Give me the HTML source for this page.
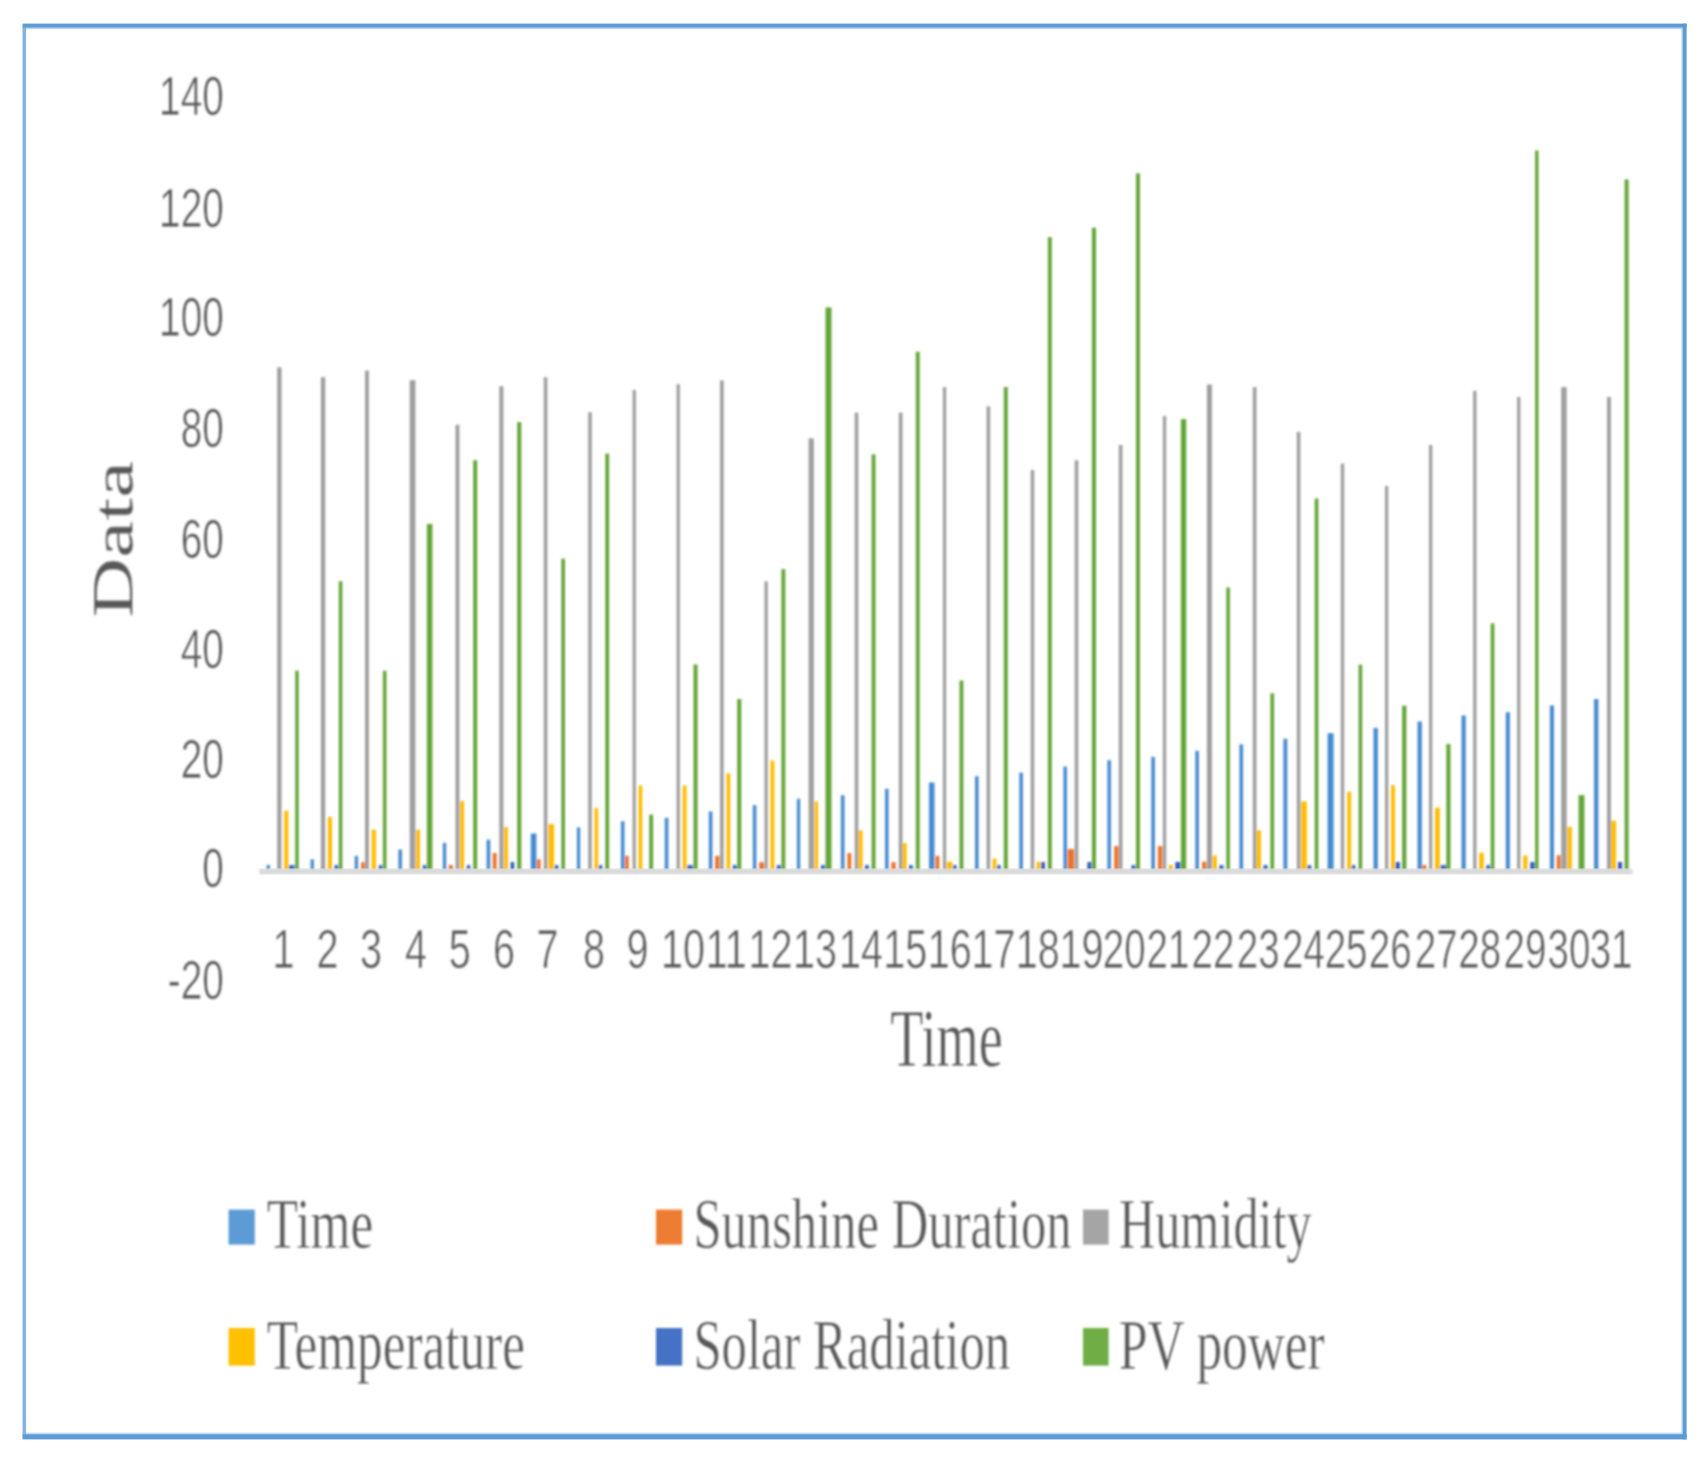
<!DOCTYPE html>
<html lang="en">
<head>
<meta charset="utf-8">
<title>Data vs Time chart</title>
<style>
html,body{margin:0;padding:0;background:#fff;}
body{width:1702px;height:1460px;overflow:hidden;}
svg{display:block;}
.s{font-family:"Liberation Sans",Arial,sans-serif;fill:#595959;}
.r{font-family:"Liberation Serif","Times New Roman",serif;fill:#595959;}
</style>
</head>
<body>
<svg width="1702" height="1460" viewBox="0 0 1702 1460">
<defs><filter id="b" x="-5%" y="-5%" width="110%" height="110%"><feGaussianBlur stdDeviation="0.9"/></filter><filter id="f" x="-1%" y="-1%" width="102%" height="102%"><feGaussianBlur stdDeviation="0.55"/></filter><filter id="t" x="-5%" y="-5%" width="110%" height="110%"><feGaussianBlur stdDeviation="0.95"/></filter></defs>
<rect x="0" y="0" width="1702" height="1460" fill="#ffffff"/>
<g filter="url(#f)">
<rect x="22.5" y="26" width="3.6" height="1411" fill="#84b3e0"/>
<rect x="22.6" y="23.6" width="1664" height="4" fill="#5b9bd5"/>
<rect x="26" y="27.4" width="1656" height="1.8" fill="#5b9bd5" opacity="0.4"/>
<rect x="1682.6" y="23.6" width="4" height="1415.8" fill="#5b9bd5"/>
<rect x="1681.2" y="28" width="1.5" height="1406" fill="#5b9bd5" opacity="0.3"/>
<rect x="22.6" y="1434.2" width="1664" height="5.2" fill="#5b9bd5"/>
<rect x="26" y="1432.6" width="1656" height="1.7" fill="#5b9bd5" opacity="0.35"/>
</g>
<g filter="url(#b)" shape-rendering="geometricPrecision">
<rect x="266.6" y="865.0" width="3.3" height="5.0" fill="#478bd0"/>
<rect x="277.2" y="367.3" width="4.3" height="502.7" fill="#9f9f9f"/>
<rect x="284.2" y="810.7" width="4.1" height="59.3" fill="#ffbd00"/>
<rect x="288.9" y="865.0" width="5.7" height="5.0" fill="#3d6dc5"/>
<rect x="295.2" y="670.7" width="3.5" height="199.3" fill="#63a537"/>
<rect x="310.6" y="859.3" width="3.3" height="10.7" fill="#478bd0"/>
<rect x="320.9" y="377.2" width="4.3" height="492.8" fill="#9f9f9f"/>
<rect x="327.9" y="817.0" width="4.1" height="53.0" fill="#ffbd00"/>
<rect x="334.5" y="865.0" width="3.7" height="5.0" fill="#3d6dc5"/>
<rect x="338.8" y="581.2" width="3.6" height="288.8" fill="#63a537"/>
<rect x="354.7" y="855.8" width="3.4" height="14.2" fill="#478bd0"/>
<rect x="361.1" y="862.2" width="3.6" height="7.8" fill="#eb7326"/>
<rect x="365.0" y="370.5" width="3.9" height="499.5" fill="#9f9f9f"/>
<rect x="371.6" y="829.7" width="4.4" height="40.3" fill="#ffbd00"/>
<rect x="378.7" y="865.0" width="3.6" height="5.0" fill="#3d6dc5"/>
<rect x="382.9" y="670.7" width="3.6" height="199.3" fill="#63a537"/>
<rect x="398.4" y="849.5" width="3.6" height="20.5" fill="#478bd0"/>
<rect x="409.7" y="380.2" width="5.7" height="489.8" fill="#9f9f9f"/>
<rect x="416.0" y="829.7" width="4.0" height="40.3" fill="#ffbd00"/>
<rect x="422.7" y="865.0" width="3.6" height="5.0" fill="#3d6dc5"/>
<rect x="426.9" y="523.9" width="5.5" height="346.1" fill="#63a537"/>
<rect x="442.8" y="842.9" width="3.4" height="27.1" fill="#478bd0"/>
<rect x="448.8" y="865.0" width="4.0" height="5.0" fill="#eb7326"/>
<rect x="455.5" y="424.8" width="3.9" height="445.2" fill="#9f9f9f"/>
<rect x="460.0" y="801.1" width="4.1" height="68.9" fill="#ffbd00"/>
<rect x="466.8" y="865.0" width="3.6" height="5.0" fill="#3d6dc5"/>
<rect x="473.2" y="460.2" width="4.0" height="409.8" fill="#63a537"/>
<rect x="486.6" y="839.6" width="3.7" height="30.4" fill="#478bd0"/>
<rect x="492.7" y="853.0" width="3.9" height="17.0" fill="#eb7326"/>
<rect x="499.3" y="386.2" width="4.1" height="483.8" fill="#9f9f9f"/>
<rect x="504.0" y="826.9" width="3.9" height="43.1" fill="#ffbd00"/>
<rect x="510.6" y="862.0" width="3.6" height="8.0" fill="#2f5bc0"/>
<rect x="517.2" y="422.1" width="4.1" height="447.9" fill="#63a537"/>
<rect x="530.8" y="833.5" width="5.6" height="36.5" fill="#478bd0"/>
<rect x="537.0" y="859.3" width="3.6" height="10.7" fill="#eb7326"/>
<rect x="543.8" y="377.2" width="3.6" height="492.8" fill="#9f9f9f"/>
<rect x="548.3" y="824.1" width="5.8" height="45.9" fill="#ffbd00"/>
<rect x="554.7" y="865.0" width="3.7" height="5.0" fill="#3d6dc5"/>
<rect x="561.3" y="558.7" width="3.7" height="311.3" fill="#63a537"/>
<rect x="576.9" y="827.3" width="3.3" height="42.7" fill="#478bd0"/>
<rect x="588.2" y="412.2" width="3.6" height="457.8" fill="#9f9f9f"/>
<rect x="594.5" y="807.9" width="3.6" height="62.1" fill="#ffbd00"/>
<rect x="598.7" y="865.0" width="3.7" height="5.0" fill="#3d6dc5"/>
<rect x="605.3" y="453.6" width="3.8" height="416.4" fill="#63a537"/>
<rect x="620.9" y="821.3" width="3.6" height="48.7" fill="#478bd0"/>
<rect x="625.1" y="855.8" width="3.6" height="14.2" fill="#eb7326"/>
<rect x="632.6" y="390.0" width="3.3" height="480.0" fill="#9f9f9f"/>
<rect x="638.5" y="785.6" width="3.8" height="84.4" fill="#ffbd00"/>
<rect x="649.2" y="814.6" width="3.9" height="55.4" fill="#63a537"/>
<rect x="664.7" y="817.8" width="3.7" height="52.2" fill="#478bd0"/>
<rect x="676.6" y="384.1" width="3.3" height="485.9" fill="#9f9f9f"/>
<rect x="682.6" y="785.6" width="4.0" height="84.4" fill="#ffbd00"/>
<rect x="687.2" y="865.0" width="5.7" height="5.0" fill="#3d6dc5"/>
<rect x="693.5" y="664.5" width="4.1" height="205.5" fill="#63a537"/>
<rect x="708.8" y="811.4" width="3.6" height="58.6" fill="#478bd0"/>
<rect x="715.1" y="855.8" width="4.3" height="14.2" fill="#eb7326"/>
<rect x="720.0" y="380.4" width="3.7" height="489.6" fill="#9f9f9f"/>
<rect x="726.4" y="773.3" width="3.9" height="96.7" fill="#ffbd00"/>
<rect x="732.7" y="865.0" width="3.9" height="5.0" fill="#3d6dc5"/>
<rect x="737.2" y="699.0" width="4.1" height="171.0" fill="#63a537"/>
<rect x="752.8" y="805.1" width="3.6" height="64.9" fill="#478bd0"/>
<rect x="759.2" y="862.2" width="4.7" height="7.8" fill="#eb7326"/>
<rect x="764.5" y="581.4" width="3.3" height="288.6" fill="#9f9f9f"/>
<rect x="770.4" y="760.6" width="4.0" height="109.4" fill="#ffbd00"/>
<rect x="776.7" y="865.0" width="4.1" height="5.0" fill="#3d6dc5"/>
<rect x="781.4" y="569.1" width="3.9" height="300.9" fill="#63a537"/>
<rect x="796.9" y="798.7" width="3.3" height="71.3" fill="#478bd0"/>
<rect x="808.6" y="438.4" width="5.3" height="431.6" fill="#9f9f9f"/>
<rect x="814.5" y="801.5" width="3.6" height="68.5" fill="#ffbd00"/>
<rect x="820.9" y="865.0" width="4.0" height="5.0" fill="#3d6dc5"/>
<rect x="825.5" y="307.4" width="6.0" height="562.6" fill="#63a537"/>
<rect x="840.9" y="795.2" width="3.6" height="74.8" fill="#478bd0"/>
<rect x="847.4" y="853.0" width="3.9" height="17.0" fill="#eb7326"/>
<rect x="854.7" y="412.7" width="3.6" height="457.3" fill="#9f9f9f"/>
<rect x="858.5" y="830.4" width="4.1" height="39.6" fill="#ffbd00"/>
<rect x="864.9" y="865.0" width="4.0" height="5.0" fill="#3d6dc5"/>
<rect x="871.6" y="454.4" width="3.9" height="415.6" fill="#63a537"/>
<rect x="885.0" y="788.8" width="3.6" height="81.2" fill="#478bd0"/>
<rect x="891.4" y="862.2" width="4.3" height="7.8" fill="#eb7326"/>
<rect x="898.8" y="412.7" width="3.7" height="457.3" fill="#9f9f9f"/>
<rect x="902.6" y="843.1" width="4.0" height="26.9" fill="#ffbd00"/>
<rect x="909.0" y="865.0" width="3.9" height="5.0" fill="#3d6dc5"/>
<rect x="915.8" y="351.8" width="3.9" height="518.2" fill="#63a537"/>
<rect x="929.0" y="782.5" width="5.5" height="87.5" fill="#478bd0"/>
<rect x="935.5" y="855.8" width="3.9" height="14.2" fill="#eb7326"/>
<rect x="942.9" y="387.0" width="3.3" height="483.0" fill="#9f9f9f"/>
<rect x="946.8" y="861.7" width="5.6" height="8.3" fill="#ffbd00"/>
<rect x="953.0" y="865.0" width="3.6" height="5.0" fill="#3d6dc5"/>
<rect x="959.5" y="680.5" width="3.9" height="189.5" fill="#63a537"/>
<rect x="975.0" y="776.2" width="3.6" height="93.8" fill="#478bd0"/>
<rect x="986.6" y="406.3" width="3.6" height="463.7" fill="#9f9f9f"/>
<rect x="992.6" y="858.6" width="3.9" height="11.4" fill="#ffbd00"/>
<rect x="997.1" y="865.0" width="3.7" height="5.0" fill="#3d6dc5"/>
<rect x="1003.8" y="387.0" width="4.0" height="483.0" fill="#63a537"/>
<rect x="1019.3" y="772.6" width="3.6" height="97.4" fill="#478bd0"/>
<rect x="1030.7" y="470.0" width="3.5" height="400.0" fill="#9f9f9f"/>
<rect x="1036.6" y="861.7" width="3.9" height="8.3" fill="#ffbd00"/>
<rect x="1041.1" y="862.0" width="3.8" height="8.0" fill="#2f5bc0"/>
<rect x="1047.9" y="237.1" width="3.9" height="632.9" fill="#63a537"/>
<rect x="1063.4" y="766.6" width="3.6" height="103.4" fill="#478bd0"/>
<rect x="1067.6" y="849.1" width="6.5" height="20.9" fill="#eb7326"/>
<rect x="1074.7" y="460.2" width="3.6" height="409.8" fill="#9f9f9f"/>
<rect x="1087.4" y="862.0" width="3.9" height="8.0" fill="#2f5bc0"/>
<rect x="1091.9" y="227.7" width="4.1" height="642.3" fill="#63a537"/>
<rect x="1107.4" y="760.2" width="3.6" height="109.8" fill="#478bd0"/>
<rect x="1114.2" y="846.0" width="4.3" height="24.0" fill="#eb7326"/>
<rect x="1118.8" y="445.0" width="3.7" height="425.0" fill="#9f9f9f"/>
<rect x="1131.4" y="865.0" width="4.0" height="5.0" fill="#3d6dc5"/>
<rect x="1136.0" y="173.4" width="4.0" height="696.6" fill="#63a537"/>
<rect x="1151.3" y="756.8" width="3.6" height="113.2" fill="#478bd0"/>
<rect x="1157.9" y="846.0" width="4.4" height="24.0" fill="#eb7326"/>
<rect x="1162.9" y="415.9" width="3.3" height="454.1" fill="#9f9f9f"/>
<rect x="1168.9" y="865.0" width="3.9" height="5.0" fill="#ffbd00"/>
<rect x="1175.3" y="862.0" width="5.0" height="8.0" fill="#2f5bc0"/>
<rect x="1180.9" y="419.1" width="5.3" height="450.9" fill="#63a537"/>
<rect x="1195.3" y="750.8" width="3.6" height="119.2" fill="#478bd0"/>
<rect x="1202.1" y="861.7" width="4.2" height="8.3" fill="#eb7326"/>
<rect x="1206.9" y="384.6" width="5.1" height="485.4" fill="#9f9f9f"/>
<rect x="1212.6" y="855.5" width="4.2" height="14.5" fill="#ffbd00"/>
<rect x="1219.3" y="865.0" width="4.3" height="5.0" fill="#3d6dc5"/>
<rect x="1226.3" y="587.5" width="3.6" height="282.5" fill="#63a537"/>
<rect x="1239.4" y="744.4" width="3.7" height="125.6" fill="#478bd0"/>
<rect x="1252.8" y="387.1" width="3.7" height="482.9" fill="#9f9f9f"/>
<rect x="1256.6" y="830.4" width="4.4" height="39.6" fill="#ffbd00"/>
<rect x="1263.4" y="865.0" width="4.2" height="5.0" fill="#3d6dc5"/>
<rect x="1270.4" y="693.3" width="3.7" height="176.7" fill="#63a537"/>
<rect x="1283.4" y="738.7" width="3.9" height="131.3" fill="#478bd0"/>
<rect x="1296.8" y="431.9" width="3.6" height="438.1" fill="#9f9f9f"/>
<rect x="1301.0" y="801.5" width="5.8" height="68.5" fill="#ffbd00"/>
<rect x="1307.4" y="865.0" width="3.9" height="5.0" fill="#3d6dc5"/>
<rect x="1314.7" y="498.5" width="3.7" height="371.5" fill="#63a537"/>
<rect x="1327.6" y="733.2" width="6.0" height="136.8" fill="#478bd0"/>
<rect x="1340.8" y="463.5" width="3.4" height="406.5" fill="#9f9f9f"/>
<rect x="1347.2" y="791.7" width="4.0" height="78.3" fill="#ffbd00"/>
<rect x="1351.8" y="865.0" width="3.6" height="5.0" fill="#3d6dc5"/>
<rect x="1358.6" y="664.7" width="3.6" height="205.3" fill="#63a537"/>
<rect x="1373.5" y="727.9" width="4.4" height="142.1" fill="#478bd0"/>
<rect x="1385.0" y="486.0" width="3.3" height="384.0" fill="#9f9f9f"/>
<rect x="1391.0" y="785.3" width="4.0" height="84.7" fill="#ffbd00"/>
<rect x="1395.6" y="862.0" width="4.3" height="8.0" fill="#2f5bc0"/>
<rect x="1402.1" y="705.7" width="4.3" height="164.3" fill="#63a537"/>
<rect x="1417.5" y="721.5" width="4.4" height="148.5" fill="#478bd0"/>
<rect x="1422.3" y="865.0" width="4.0" height="5.0" fill="#eb7326"/>
<rect x="1429.0" y="445.0" width="3.3" height="425.0" fill="#9f9f9f"/>
<rect x="1435.0" y="807.6" width="4.8" height="62.4" fill="#ffbd00"/>
<rect x="1440.4" y="865.0" width="5.6" height="5.0" fill="#3d6dc5"/>
<rect x="1446.3" y="744.0" width="4.2" height="126.0" fill="#63a537"/>
<rect x="1461.5" y="715.5" width="4.3" height="154.5" fill="#478bd0"/>
<rect x="1473.1" y="390.8" width="3.4" height="479.2" fill="#9f9f9f"/>
<rect x="1479.2" y="852.7" width="4.6" height="17.3" fill="#ffbd00"/>
<rect x="1486.2" y="865.0" width="3.9" height="5.0" fill="#3d6dc5"/>
<rect x="1490.7" y="623.3" width="3.7" height="246.7" fill="#63a537"/>
<rect x="1505.8" y="712.2" width="4.1" height="157.8" fill="#478bd0"/>
<rect x="1517.1" y="396.9" width="3.3" height="473.1" fill="#9f9f9f"/>
<rect x="1523.2" y="855.5" width="4.3" height="14.5" fill="#ffbd00"/>
<rect x="1530.2" y="862.0" width="4.3" height="8.0" fill="#2f5bc0"/>
<rect x="1535.1" y="150.5" width="3.4" height="719.5" fill="#63a537"/>
<rect x="1549.9" y="705.5" width="4.1" height="164.5" fill="#478bd0"/>
<rect x="1556.7" y="855.2" width="3.9" height="14.8" fill="#eb7326"/>
<rect x="1561.2" y="387.1" width="5.5" height="482.9" fill="#9f9f9f"/>
<rect x="1567.3" y="826.8" width="4.6" height="43.2" fill="#ffbd00"/>
<rect x="1578.6" y="795.1" width="5.8" height="74.9" fill="#63a537"/>
<rect x="1594.0" y="699.0" width="4.4" height="171.0" fill="#478bd0"/>
<rect x="1607.0" y="396.9" width="3.9" height="473.1" fill="#9f9f9f"/>
<rect x="1611.1" y="820.7" width="5.0" height="49.3" fill="#ffbd00"/>
<rect x="1617.9" y="862.0" width="4.2" height="8.0" fill="#2f5bc0"/>
<rect x="1624.6" y="179.4" width="4.0" height="690.6" fill="#63a537"/>
</g>
<g filter="url(#b)"><rect x="259.4" y="868.6" width="1373.2" height="5.8" fill="#d9d9d9"/></g>
<g class="s" font-size="55" text-anchor="end" filter="url(#t)" stroke="#fff" stroke-width="0.5">
<text transform="translate(223.8,114.7) scale(0.705,1)">140</text>
<text transform="translate(223.8,227.1) scale(0.705,1)">120</text>
<text transform="translate(223.8,335.5) scale(0.705,1)">100</text>
<text transform="translate(223.8,447.0) scale(0.705,1)">80</text>
<text transform="translate(223.8,558.0) scale(0.705,1)">60</text>
<text transform="translate(223.8,667.9) scale(0.705,1)">40</text>
<text transform="translate(223.8,777.8) scale(0.705,1)">20</text>
<text transform="translate(223.8,887.2) scale(0.705,1)">0</text>
<text transform="translate(223.8,998.6) scale(0.705,1)">-20</text>
</g>
<g class="s" font-size="55" text-anchor="middle" filter="url(#t)" stroke="#fff" stroke-width="0.5">
<text transform="translate(283.6,967.5) scale(0.72,1)">1</text>
<text transform="translate(327.5,967.5) scale(0.72,1)">2</text>
<text transform="translate(371.1,967.5) scale(0.72,1)">3</text>
<text transform="translate(416.1,967.5) scale(0.72,1)">4</text>
<text transform="translate(459.7,967.5) scale(0.72,1)">5</text>
<text transform="translate(503.9,967.5) scale(0.72,1)">6</text>
<text transform="translate(547.6,967.5) scale(0.72,1)">7</text>
<text transform="translate(594.1,967.5) scale(0.72,1)">8</text>
<text transform="translate(637.6,967.5) scale(0.72,1)">9</text>
<text transform="translate(683.0,967.5) scale(0.72,1)">10</text>
<text transform="translate(726.2,967.5) scale(0.72,1)">11</text>
<text transform="translate(770.6,967.5) scale(0.72,1)">12</text>
<text transform="translate(815.1,967.5) scale(0.72,1)">13</text>
<text transform="translate(860.9,967.5) scale(0.72,1)">14</text>
<text transform="translate(905.3,967.5) scale(0.72,1)">15</text>
<text transform="translate(949.8,967.5) scale(0.72,1)">16</text>
<text transform="translate(993.6,967.5) scale(0.72,1)">17</text>
<text transform="translate(1037.7,967.5) scale(0.72,1)">18</text>
<text transform="translate(1081.5,967.5) scale(0.72,1)">19</text>
<text transform="translate(1124.2,967.5) scale(0.70,1)">20</text>
<text transform="translate(1168.0,967.5) scale(0.70,1)">21</text>
<text transform="translate(1213.0,967.5) scale(0.70,1)">22</text>
<text transform="translate(1258.2,967.5) scale(0.70,1)">23</text>
<text transform="translate(1303.4,967.5) scale(0.70,1)">24</text>
<text transform="translate(1346.1,967.5) scale(0.70,1)">25</text>
<text transform="translate(1390.2,967.5) scale(0.70,1)">26</text>
<text transform="translate(1436.2,967.5) scale(0.70,1)">27</text>
<text transform="translate(1479.7,967.5) scale(0.70,1)">28</text>
<text transform="translate(1525.0,967.5) scale(0.70,1)">29</text>
<text transform="translate(1568.9,967.5) scale(0.70,1)">30</text>
<text transform="translate(1611.1,967.5) scale(0.70,1)">31</text>
</g>
<g class="r" filter="url(#t)" stroke="#fff" stroke-width="0.4">
<text font-size="83.5" text-anchor="middle" transform="translate(946.5,1065.6) scale(0.649,1)">Time</text>
<text font-size="83" text-anchor="middle" stroke-width="0.2" transform="translate(132.6,539.3) rotate(-90) scale(1,0.68)">Data</text>
</g>
<g filter="url(#t)">
<rect x="228.6" y="1209.6" width="26.2" height="35.0" fill="#5b9bd5"/>
<text class="r" font-size="71.8" stroke="#fff" stroke-width="0.4" transform="translate(266.8,1248.1) scale(0.7140,1)">Time</text>
<rect x="656.0" y="1209.6" width="26.2" height="35.0" fill="#ed7d31"/>
<text class="r" font-size="71.8" stroke="#fff" stroke-width="0.4" transform="translate(693.4,1248.1) scale(0.7050,1)">Sunshine Duration</text>
<rect x="1083.0" y="1209.6" width="25.6" height="35.0" fill="#a5a5a5"/>
<text class="r" font-size="71.8" stroke="#fff" stroke-width="0.4" transform="translate(1118.9,1248.1) scale(0.7000,1)">Humidity</text>
<rect x="228.6" y="1328.0" width="26.2" height="37.6" fill="#ffc000"/>
<text class="r" font-size="71.8" stroke="#fff" stroke-width="0.4" transform="translate(266.8,1368.8) scale(0.7137,1)">Temperature</text>
<rect x="656.0" y="1328.0" width="26.2" height="37.6" fill="#4472c4"/>
<text class="r" font-size="71.8" stroke="#fff" stroke-width="0.4" transform="translate(693.4,1368.8) scale(0.7060,1)">Solar Radiation</text>
<rect x="1083.0" y="1328.0" width="25.6" height="37.6" fill="#70ad47"/>
<text class="r" font-size="71.8" stroke="#fff" stroke-width="0.4" transform="translate(1118.9,1368.8) scale(0.7150,1)">PV power</text>
</g>
</svg>
</body>
</html>
